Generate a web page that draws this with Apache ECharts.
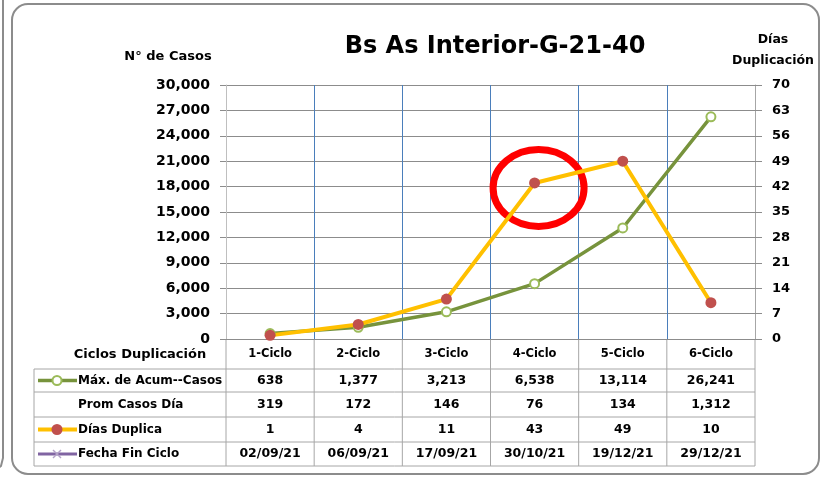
<!DOCTYPE html>
<html>
<head>
<meta charset="utf-8">
<script src="https://cdn.jsdelivr.net/npm/echarts@6/dist/echarts.min.js"></script>
<style>
  html, body { margin: 0; padding: 0; background: #fff; }
  #main { width: 825px; height: 477px; }
</style>
</head>
<body>
<div id="main"></div>
<script>
const categories = ['1-Ciclo', '2-Ciclo', '3-Ciclo', '4-Ciclo', '5-Ciclo', '6-Ciclo'];
const maxCasos = [638, 1377, 3213, 6538, 13114, 26241];
const promCasos = [319, 172, 146, 76, 134, 1312];
const diasDuplica = [1, 4, 11, 43, 49, 10];
const fechaFin = ['02/09/21', '06/09/21', '17/09/21', '30/10/21', '19/12/21', '29/12/21'];
const rowNames = ['Máx. de Acum--Casos', 'Prom Casos Día', 'Días Duplica', 'Fecha Fin Ciclo'];

const font = '"DejaVu Sans", sans-serif';
const fmt = v => v.toLocaleString('en-US');

const chart = echarts.init(document.getElementById('main'), null, { renderer: 'canvas' });

const option = {
  animation: false,
  backgroundColor: '#fff',
  textStyle: { fontFamily: font },
  title: {
    text: 'Bs As Interior-G-21-40',
    left: 490, top: 30, textAlign: 'center',
    textStyle: { fontFamily: font, fontSize: 24, fontWeight: 'bold', color: '#000' }
  },
  grid: { left: 226, right: 70, top: 85, bottom: 138 },
  xAxis: {
    type: 'category',
    data: categories,
    axisLine: { lineStyle: { color: '#8C8C8C' } },
    axisTick: { show: false },
    axisLabel: { color: '#000', fontFamily: font, fontWeight: 'bold', fontSize: 11.5, margin: 9 },
    splitLine: { show: true, lineStyle: { color: '#4A7EBB', width: 1 } }
  },
  yAxis: [
    {
      type: 'value', min: 0, max: 30000, interval: 3000,
      axisLine: { show: true, lineStyle: { color: '#BFBFBF' } },
      axisTick: { show: true, length: 6, lineStyle: { color: '#8C8C8C' } },
      axisLabel: { color: '#000', fontFamily: font, fontWeight: 'bold', fontSize: 14, margin: 16 },
      splitLine: { lineStyle: { color: '#8C8C8C', width: 1 } }
    },
    {
      type: 'value', min: 0, max: 70, interval: 7,
      axisLine: { show: true, lineStyle: { color: '#A6A6A6' } },
      axisTick: { show: true, length: 7, lineStyle: { color: '#8C8C8C' } },
      axisLabel: { color: '#000', fontFamily: font, fontWeight: 'bold', fontSize: 13, margin: 17 },
      splitLine: { show: false }
    }
  ],
  series: [
    {
      name: rowNames[0], type: 'line', yAxisIndex: 0, data: maxCasos,
      symbol: 'circle', symbolSize: 9,
      lineStyle: { color: '#77933C', width: 3.5 },
      itemStyle: { color: '#fff', borderColor: '#9BBB59', borderWidth: 2 }
    },
    {
      name: rowNames[2], type: 'line', yAxisIndex: 1, data: diasDuplica,
      symbol: 'circle', symbolSize: 11,
      lineStyle: { color: '#FFC000', width: 4 },
      itemStyle: { color: '#C0504D', borderColor: '#C0504D', borderWidth: 0 }
    }
  ]
};
chart.setOption(option);

// table under the plot, aligned to the category axis
const cx = categories.map((c, i) => chart.convertToPixel({ xAxisIndex: 0 }, i));
const band = cx[1] - cx[0];
const bounds = [cx[0] - band / 2].concat(cx.map(x => x + band / 2));
const axisY = chart.convertToPixel({ yAxisIndex: 0 }, 0);
const rowLines = [369, 392, 417, 442, 466];
const tableLeft = 34;
const border = '#A6A6A6';
const txt = { fill: '#000', font: 'bold 12.5px ' + font, textAlign: 'center', textVerticalAlign: 'middle' };

const g = [];
// outer frames
g.push({ type: 'rect', shape: { x: 12, y: 4, width: 807, height: 470, r: 16 },
  style: { fill: 'none', stroke: '#8C8C8C', lineWidth: 2 }, z: 10 });
g.push({ type: 'polyline', shape: { points: [[3, 0], [3, 458], [1, 466], [-4, 470]] },
  style: { fill: 'none', stroke: '#8C8C8C', lineWidth: 2 }, z: 10 });

// axis titles
g.push({ type: 'text', x: 168, y: 57, style: Object.assign({}, txt, { text: 'N° de Casos', font: 'bold 13px ' + font }) });
g.push({ type: 'text', x: 773, y: 40, style: Object.assign({}, txt, { text: 'Días', font: 'bold 12.5px ' + font }) });
g.push({ type: 'text', x: 773, y: 61, style: Object.assign({}, txt, { text: 'Duplicación', font: 'bold 12.5px ' + font }) });
g.push({ type: 'text', x: 140, y: 355, style: Object.assign({}, txt, { text: 'Ciclos Duplicación', font: 'bold 13px ' + font }) });

// table grid
rowLines.forEach(y => g.push({ type: 'line', shape: { x1: tableLeft, y1: y, x2: bounds[bounds.length - 1], y2: y },
  style: { stroke: border, lineWidth: 1 } }));
g.push({ type: 'line', shape: { x1: tableLeft, y1: rowLines[0], x2: tableLeft, y2: rowLines[4] }, style: { stroke: border, lineWidth: 1 } });
bounds.forEach(x => g.push({ type: 'line', shape: { x1: x, y1: axisY, x2: x, y2: rowLines[4] }, style: { stroke: border, lineWidth: 1 } }));

// table row labels and values
const rows = [maxCasos.map(fmt), promCasos.map(fmt), diasDuplica.map(fmt), fechaFin];
rows.forEach((vals, r) => {
  const y = (rowLines[r] + rowLines[r + 1]) / 2;
  g.push({ type: 'text', x: 78, y: y, style: Object.assign({}, txt, { text: rowNames[r], textAlign: 'left', font: 'bold 12px ' + font }) });
  vals.forEach((v, i) => g.push({ type: 'text', x: cx[i], y: y, style: Object.assign({}, txt, { text: v }) }));
});

// legend keys inside the table
const ky = r => (rowLines[r] + rowLines[r + 1]) / 2;
g.push({ type: 'line', shape: { x1: 38, y1: ky(0), x2: 77, y2: ky(0) }, style: { stroke: '#77933C', lineWidth: 3.5 } });
g.push({ type: 'circle', shape: { cx: 57, cy: ky(0), r: 4.5 }, style: { fill: '#fff', stroke: '#9BBB59', lineWidth: 2 } });
g.push({ type: 'line', shape: { x1: 38, y1: ky(2), x2: 77, y2: ky(2) }, style: { stroke: '#FFC000', lineWidth: 4 } });
g.push({ type: 'circle', shape: { cx: 57, cy: ky(2), r: 5.5 }, style: { fill: '#C0504D' } });
g.push({ type: 'line', shape: { x1: 38, y1: ky(3), x2: 77, y2: ky(3) }, style: { stroke: '#8064A2', lineWidth: 3 } });
g.push({ type: 'line', shape: { x1: 53, y1: ky(3) - 4, x2: 61, y2: ky(3) + 4 }, style: { stroke: '#B3A2C7', lineWidth: 1.5 } });
g.push({ type: 'line', shape: { x1: 53, y1: ky(3) + 4, x2: 61, y2: ky(3) - 4 }, style: { stroke: '#B3A2C7', lineWidth: 1.5 } });

// red highlight around the 4-Ciclo point
const p = chart.convertToPixel({ xAxisIndex: 0, yAxisIndex: 1 }, [3, diasDuplica[3]]);
g.push({ type: 'ellipse', shape: { cx: p[0] + 4, cy: p[1] + 5, rx: 45.5, ry: 38.5 },
  style: { fill: 'none', stroke: '#FF0000', lineWidth: 7 }, z: 1 });

chart.setOption({ graphic: { elements: g } });
</script>
</body>
</html>
